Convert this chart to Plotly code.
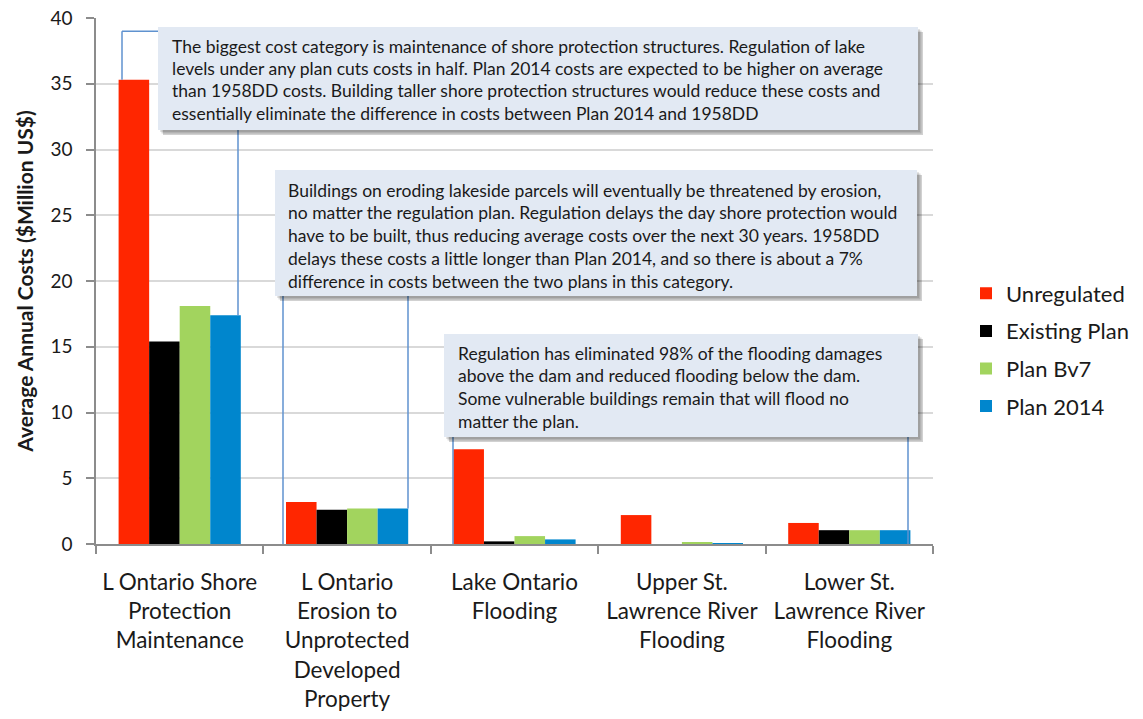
import plotly.graph_objects as go

categories = [
    "L Ontario Shore<br>Protection<br>Maintenance",
    "L Ontario<br>Erosion to<br>Unprotected<br>Developed<br>Property",
    "Lake Ontario<br>Flooding",
    "Upper St.<br>Lawrence River<br>Flooding",
    "Lower St.<br>Lawrence River<br>Flooding",
]
unregulated = [35.3, 3.2, 7.2, 2.2, 1.6]
existing_plan = [15.4, 2.6, 0.2, 0.0, 1.05]
plan_bv7 = [18.1, 2.7, 0.6, 0.08, 1.05]
plan_2014 = [17.4, 2.7, 0.35, 0.03, 1.05]

series_names = ["Unregulated", "Existing Plan", "Plan Bv7", "Plan 2014"]
series_values = [unregulated, existing_plan, plan_bv7, plan_2014]
series_colors = ["#ff2600", "#000000", "#a2d45e", "#0086cd"]

notes = [
    ["The biggest cost category is maintenance of shore protection structures. Regulation of lake",
     "levels under any plan cuts costs in half. Plan 2014 costs are expected to be higher on average",
     "than 1958DD costs. Building taller shore protection structures would reduce these costs and",
     "essentially eliminate the difference in costs between Plan 2014 and 1958DD"],
    ["Buildings on eroding lakeside parcels will eventually be threatened by erosion,",
     "no matter the regulation plan. Regulation delays the day shore protection would",
     "have to be built, thus reducing average costs over the next 30 years. 1958DD",
     "delays these costs a little longer than Plan 2014, and so there is about a 7%",
     "difference in costs between the two plans in this category."],
    ["Regulation has eliminated 98% of the flooding damages",
     "above the dam and reduced flooding below the dam.",
     "Some vulnerable buildings remain that will flood no",
     "matter the plan."],
]

W, H = 1143, 719
L, R, T, B = 96, 210, 18, 175
PW, PH = W - L - R, H - T - B

def px(x):
    return (x - L) / PW

def py(y):
    return (H - B - y) / PH

FONT = "Lato, Calibri, Carlito, sans-serif"

fig = go.Figure()
for name, vals, col in zip(series_names, series_values, series_colors):
    fig.add_trace(go.Bar(name=name, x=categories, y=vals, legendgroup=name,
                         marker=dict(color=col, line=dict(width=0))))

shapes = []
annotations = []
line_col = "#5f92cf"

def vline(xp, y0, y1):
    shapes.append(dict(type="line", xref="paper", yref="y", x0=px(xp), x1=px(xp), y0=y0, y1=y1,
                       line=dict(color=line_col, width=1.5), layer="above"))

vline(122, unregulated[0], 39.0)
shapes.append(dict(type="line", xref="paper", yref="y", x0=px(122), x1=px(160), y0=39.0, y1=39.0,
                   line=dict(color=line_col, width=1.5), layer="above"))
vline(238, plan_2014[0], 33)
vline(283, -0.1, 22)
vline(408, plan_2014[1], 22)
vline(453, -0.1, 10)
vline(908, -0.15, 10)

boxes = [(158, 27, 918, 130, 170, 46, 22.4),
         (275, 170, 917, 296, 286, 190, 22.9),
         (444, 334, 918, 437, 456, 353, 22.7)]

for (x0, y0, x1, y1, tx, ty, dy), lines in zip(boxes, notes):
    for k, a in enumerate([0.10, 0.14, 0.18]):
        off = 2 + k * 1.5
        shapes.append(dict(type="rect", xref="paper", yref="paper",
                           x0=px(x0 + off), x1=px(x1 + off), y0=py(y1 + off), y1=py(y0 + off),
                           fillcolor=f"rgba(0,0,0,{a})", line=dict(width=0), layer="above"))
    shapes.append(dict(type="rect", xref="paper", yref="paper",
                       x0=px(x0), x1=px(x1), y0=py(y1), y1=py(y0),
                       fillcolor="#e2e9f3", line=dict(width=0), layer="above"))
    for i, t in enumerate(lines):
        annotations.append(dict(xref="paper", yref="paper", x=px(tx), y=py(ty + i * dy),
                                xanchor="left", yanchor="middle", text=t, showarrow=False,
                                font=dict(family=FONT, size=17.5, color="#1a1a1a")))

fig.update_layout(
    width=W, height=H,
    margin=dict(l=L, r=R, t=T, b=B, autoexpand=False),
    paper_bgcolor="white", plot_bgcolor="white",
    barmode="group", bargap=0.27, bargroupgap=0,
    font=dict(family=FONT, color="#1a1a1a"),
    shapes=shapes, annotations=annotations,
    legend=dict(x=px(966), y=py(350), xanchor="left", yanchor="middle",
                font=dict(family=FONT, size=22, color="#1a1a1a"),
                bgcolor="rgba(0,0,0,0)", itemwidth=30, tracegroupgap=6),
    xaxis=dict(showline=True, linecolor="#8c8c8c", linewidth=1.5, ticks="outside",
               tickson="boundaries", ticklen=8, tickcolor="#8c8c8c", tickwidth=1.5,
               ticklabelstandoff=17,
               tickfont=dict(family=FONT, size=22.5, color="#1a1a1a"), showgrid=False),
    yaxis=dict(range=[0, 40], dtick=5, showline=True, linecolor="#8c8c8c", linewidth=1.5,
               ticks="outside", ticklen=8, tickcolor="#8c8c8c", tickwidth=1.5,
               ticklabelstandoff=10,
               gridcolor="#d9d9d9", gridwidth=1.5, zeroline=False,
               tickfont=dict(family=FONT, size=19, color="#1a1a1a"),
               title=dict(text="<b>Average Annual Costs ($Million US$)</b>",
                          font=dict(family=FONT, size=21, color="#1a1a1a"), standoff=11)),
)

fig.write_html("out.html", config={"displayModeBar": False},
               post_script="document.body.style.margin='0';")
